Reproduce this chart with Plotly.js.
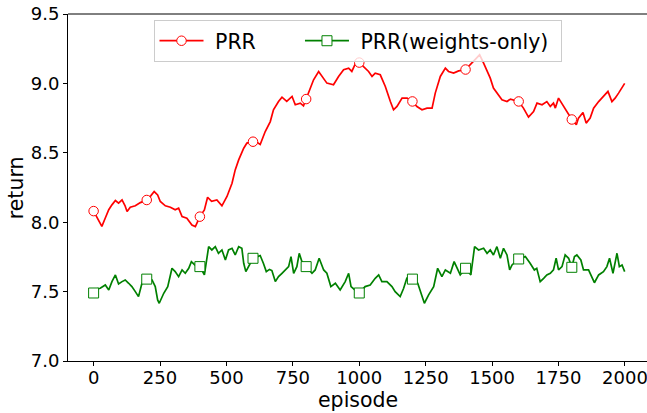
<!DOCTYPE html>
<html>
<head>
<meta charset="utf-8">
<script src="https://cdn.plot.ly/plotly-3.0.1.min.js"></script>
<style>html,body{margin:0;padding:0;background:#fff;}#chart{width:647px;height:413px;}</style>
</head>
<body>
<div id="chart"></div>
<script>
// PRR (red, circles)
const prrEpisodes = [0,15,31,44,57,69,82,94,107,118,126,138,157,176,200,215,228,241,251,270,289,307,320,333,351,370,383,400,417,429,444,464,483,502,521,533,546,565,577,600,615,627,646,665,677,696,709,727,747,759,778,790,800,816,828,847,859,878,903,922,941,960,972,985,1000,1016,1035,1048,1060,1079,1098,1117,1129,1142,1161,1180,1200,1217,1236,1255,1274,1286,1305,1324,1336,1355,1374,1400,1418,1437,1453,1468,1481,1493,1505,1524,1537,1556,1569,1600,1618,1637,1656,1669,1688,1706,1719,1731,1738,1750,1769,1782,1800,1817,1825,1842,1854,1869,1882,1901,1919,1936,1951,1963,1976,1989,1999];
const prrValues = [8.08,8.03,7.97,8.03,8.09,8.125,8.156,8.137,8.161,8.12,8.077,8.108,8.118,8.141,8.16,8.19,8.221,8.197,8.149,8.118,8.108,8.089,8.101,8.041,8.029,7.98,7.968,8.04,8.089,8.18,8.15,8.161,8.118,8.185,8.281,8.377,8.449,8.533,8.57,8.58,8.575,8.56,8.653,8.725,8.81,8.87,8.901,8.87,8.906,8.846,8.858,8.838,8.887,8.954,9.026,9.086,9.05,9.002,8.99,9.05,9.098,9.11,9.086,9.14,9.15,9.122,9.086,9.05,9.074,9.062,8.978,8.869,8.81,8.834,8.894,8.894,8.87,8.833,8.81,8.822,8.822,8.93,9.05,9.11,9.086,9.074,9.09,9.10,9.134,9.17,9.206,9.146,9.086,9.038,8.966,8.918,8.882,8.87,8.887,8.87,8.822,8.757,8.797,8.858,8.846,8.869,8.834,8.858,8.822,8.894,8.834,8.797,8.74,8.702,8.75,8.79,8.714,8.75,8.822,8.869,8.906,8.942,8.869,8.894,8.93,8.966,9.0];

// PRR(weights-only) (green, squares)
const wEpisodes = [0,12,25,44,57,69,82,94,107,119,132,144,157,169,182,200,220,232,241,247,264,279,295,307,320,333,345,358,368,382,400,417,433,445,458,470,483,496,508,521,533,546,558,565,573,583,600,615,627,639,650,662,671,684,696,709,722,734,743,753,765,774,784,800,822,834,849,866,878,893,910,928,947,960,969,985,1000,1022,1041,1060,1073,1085,1104,1123,1135,1154,1167,1179,1200,1220,1236,1245,1261,1280,1295,1311,1324,1343,1357,1367,1380,1400,1420,1434,1449,1468,1481,1493,1505,1518,1531,1543,1556,1566,1575,1600,1625,1643,1659,1668,1681,1694,1706,1719,1731,1741,1750,1763,1775,1788,1800,1810,1819,1834,1844,1863,1876,1885,1901,1919,1932,1942,1955,1970,1979,1989,1999];
const wValues = [7.49,7.52,7.524,7.548,7.512,7.572,7.62,7.555,7.572,7.584,7.56,7.536,7.5,7.464,7.56,7.59,7.584,7.536,7.44,7.416,7.488,7.536,7.668,7.644,7.608,7.656,7.632,7.668,7.716,7.69,7.68,7.62,7.824,7.8,7.824,7.776,7.8,7.728,7.8,7.812,7.764,7.824,7.812,7.704,7.644,7.68,7.74,7.75,7.76,7.704,7.644,7.66,7.652,7.572,7.608,7.632,7.656,7.68,7.752,7.632,7.68,7.776,7.716,7.68,7.632,7.656,7.74,7.656,7.632,7.536,7.56,7.512,7.572,7.632,7.536,7.51,7.49,7.536,7.548,7.596,7.62,7.572,7.572,7.536,7.5,7.464,7.524,7.596,7.59,7.56,7.464,7.416,7.476,7.536,7.668,7.608,7.656,7.632,7.716,7.668,7.62,7.668,7.62,7.824,7.8,7.812,7.776,7.8,7.764,7.824,7.74,7.812,7.764,7.656,7.692,7.735,7.752,7.704,7.656,7.668,7.572,7.596,7.62,7.632,7.656,7.74,7.656,7.68,7.764,7.74,7.675,7.752,7.764,7.728,7.656,7.656,7.608,7.564,7.62,7.644,7.68,7.74,7.632,7.776,7.68,7.692,7.644];

const markEvery = 200;
const xTicks = [0,250,500,750,1000,1250,1500,1750,2000];
const yTicks = [7.0,7.5,8.0,8.5,9.0,9.5];

function pick(xs, ys) {
  const mx = [], my = [];
  xs.forEach((e, i) => { if (e % markEvery === 0) { mx.push(e); my.push(ys[i]); } });
  return {mx, my};
}
const pm = pick(prrEpisodes, prrValues);
const wm = pick(wEpisodes, wValues);

const RED = '#ff0000', GREEN = '#008000';
const NB = '\u00a0';
const LW = 1.7;
const traces = [
  {x: prrEpisodes, y: prrValues, mode: 'lines', line: {color: RED, width: LW}, showlegend: false, hoverinfo: 'skip'},
  {x: pm.mx, y: pm.my, mode: 'markers', marker: {symbol: 'circle', size: 9.5, color: 'white', line: {color: RED, width: 1}}, showlegend: false},
  {x: wEpisodes, y: wValues, mode: 'lines', line: {color: GREEN, width: LW}, showlegend: false, hoverinfo: 'skip'},
  {x: wm.mx, y: wm.my, mode: 'markers', marker: {symbol: 'square', size: 10, color: 'white', line: {color: GREEN, width: 1}}, showlegend: false},
  {x: [null], y: [null], mode: 'lines+markers', name: NB + 'PRR' + NB.repeat(6), line: {color: RED, width: LW}, marker: {symbol: 'circle', size: 9.5, color: 'white', line: {color: RED, width: 1}}},
  {x: [null], y: [null], mode: 'lines+markers', name: NB + 'PRR(weights-only)' + NB, line: {color: GREEN, width: LW}, marker: {symbol: 'square', size: 10, color: 'white', line: {color: GREEN, width: 1}}}
];

const FONT = 'DejaVu Sans, sans-serif';
const layout = {
  width: 647, height: 413,
  margin: {l: 68, r: 0, t: 14, b: 52, pad: 0},
  paper_bgcolor: 'white', plot_bgcolor: 'white',
  font: {family: FONT, color: 'black', size: 18},
  showlegend: true,
  legend: {
    orientation: 'h', x: 0.5, xanchor: 'center', y: 0.983, yanchor: 'top',
    bgcolor: 'rgba(255,255,255,0.8)', bordercolor: '#cccccc', borderwidth: 1,
    font: {family: FONT, size: 20.5, color: 'black'}, itemwidth: 44
  },
  xaxis: {
    range: [-96.4, 2083], tickvals: xTicks, ticktext: xTicks.map(String),
    showgrid: false, zeroline: false, showline: true, linecolor: 'black', linewidth: 1,
    ticks: 'outside', ticklen: 4, tickwidth: 1, tickcolor: 'black',
    tickfont: {family: FONT, size: 18}, ticklabeloverflow: 'allow', ticklabelstandoff: -4
  },
  yaxis: {
    range: [7.0, 9.5], tickvals: yTicks, ticktext: yTicks.map(v => v.toFixed(1)),
    showgrid: false, zeroline: false, showline: true, linecolor: 'black', linewidth: 1,
    ticks: 'outside', ticklen: 4, tickwidth: 1, tickcolor: 'black',
    tickfont: {family: FONT, size: 18}
  },
  annotations: [
    {text: 'episode', xref: 'paper', yref: 'paper', x: 0.5, y: -0.112, xanchor: 'center', yanchor: 'middle', showarrow: false, font: {family: FONT, size: 20.5, color: 'black'}},
    {text: 'return', xref: 'paper', yref: 'paper', x: -0.0903, y: 0.5, xanchor: 'center', yanchor: 'middle', textangle: -90, showarrow: false, font: {family: FONT, size: 20.5, color: 'black'}}
  ],
  shapes: [{type: 'line', xref: 'paper', yref: 'paper', x0: 0, x1: 1, y0: 1, y1: 1, line: {color: 'black', width: 1}}]
};

Plotly.newPlot('chart', traces, layout, {displayModeBar: false, staticPlot: true});
</script>
</body>
</html>
